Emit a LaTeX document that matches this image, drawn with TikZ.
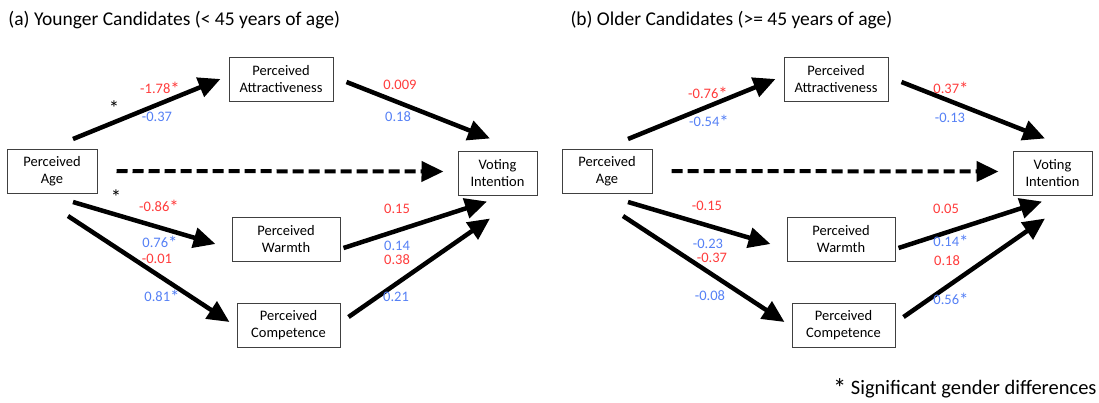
\documentclass[tikz,border=0pt]{standalone}
\usepackage{fontspec}
\usepackage{graphicx}
\setmainfont{Carlito}
\usetikzlibrary{arrows.meta}
\definecolor{cred}{HTML}{FF3B3B}
\definecolor{cblue}{HTML}{5580F5}
\definecolor{cbox}{HTML}{404040}
\newcommand\sig{\raisebox{-0.15em}{\scalebox{1.3}{*}}}
\tikzset{
  every picture/.style={line width=1pt},
  box/.style={draw=cbox, line width=1pt, align=center, inner sep=2pt, minimum height=44pt, font=\fontsize{14.5}{17}\selectfont},
  arrow/.style={-{Triangle[length=22pt, width=20pt]}, line width=4.5pt},
  dasharrow/.style={arrow, line width=4pt, dash pattern=on 11pt off 5pt},
  coef/.style={font=\fontsize{14.5}{16}\selectfont, inner sep=0pt, text=#1},
  coef/.default=black,
  title/.style={font=\fontsize{19.5}{22}\selectfont, anchor=west, inner sep=0pt},
}
\begin{document}
\begin{tikzpicture}[x=1pt, y=1pt]
\useasboundingbox (0,0) rectangle (1099,-402);
\node[title] (a-title) at (8,-20) {(a) Younger Candidates (< 45 years of age)};
\node[title] (b-title) at (570,-20) {(b) Older Candidates (>= 45 years of age)};
% boxes and paths, same layout in both panels
\foreach \p/\dx in {a/0, b/555}{
  \begin{scope}[xshift=\dx]
    \node[box, minimum width=90pt] (\p-age) at (52,-171.5) {Perceived\\Age};
    \node[box, minimum width=104pt] (\p-attr) at (281,-79) {Perceived\\Attractiveness};
    \node[box, minimum width=108pt] (\p-warm) at (286,-239) {Perceived\\Warmth};
    \node[box, minimum width=103pt] (\p-comp) at (288.5,-325) {Perceived\\Competence};
    \node[box, minimum width=79pt] (\p-vote) at (497.5,-173) {Voting\\Intention};
  \end{scope}
  \draw[arrow] ([shift={(21,10)}]\p-age.north) -- ([xshift=-8]\p-attr.west);
  \draw[dasharrow] ([shift={(19,0.5)}]\p-age.east) -- ([shift={(-14,1.5)}]\p-vote.west);
  \draw[arrow] ([shift={(13,-3)}]\p-attr.east) -- ([shift={(-7.5,12)}]\p-vote.north);
  \draw[arrow] ([shift={(21,-8)}]\p-age.south) -- ([shift={(-16,-5)}]\p-warm.west);
  \draw[arrow] ([shift={(16,-22)}]\p-age.south) -- ([shift={(-7,3)}]\p-comp.west);
  \draw[arrow] ([shift={(3,-9)}]\p-warm.east) -- ([shift={(-10.5,-6)}]\p-vote.south);
  \draw[arrow] ([shift={(8,8)}]\p-comp.east) -- ([shift={(-7.5,-23)}]\p-vote.south);
}
% (a) coefficients
\node[coef, font=\fontsize{16}{16}\selectfont] (a-star1) at (114,-108) {\sig};
\node[coef, font=\fontsize{16}{16}\selectfont] (a-star2) at (116,-197) {\sig};
\node[coef=cred] (a-c1) at (160,-89) {-1.78\sig};
\node[coef=cblue] (a-c2) at (157,-117) {-0.37};
\node[coef=cred] (a-c3) at (400,-85) {0.009};
\node[coef=cblue] (a-c4) at (398,-117) {0.18};
\node[coef=cred] (a-c5) at (159,-207) {-0.86\sig};
\node[coef=cblue] (a-c6) at (160,-243) {0.76\sig};
\node[coef=cred] (a-c7) at (157,-259) {-0.01};
\node[coef=cblue] (a-c8) at (162,-297) {0.81\sig};
\node[coef=cred] (a-c9) at (397,-209) {0.15};
\node[coef=cblue] (a-c10) at (397,-246) {0.14};
\node[coef=cred] (a-c11) at (397,-260) {0.38};
\node[coef=cblue] (a-c12) at (396,-297) {0.21};
% (b) coefficients
\node[coef=cred] (b-c1) at (708,-94) {-0.76\sig};
\node[coef=cblue] (b-c2) at (709,-122) {-0.54\sig};
\node[coef=cred] (b-c3) at (951,-89) {0.37\sig};
\node[coef=cblue] (b-c4) at (950,-118) {-0.13};
\node[coef=cred] (b-c5) at (707,-206) {-0.15};
\node[coef=cblue] (b-c6) at (708,-244) {-0.23};
\node[coef=cred] (b-c7) at (712,-258) {-0.37};
\node[coef=cblue] (b-c8) at (710,-296) {-0.08};
\node[coef=cred] (b-c9) at (946,-209) {0.05};
\node[coef=cblue] (b-c10) at (951,-242) {0.14\sig};
\node[coef=cred] (b-c11) at (947,-261) {0.18};
\node[coef=cblue] (b-c12) at (951,-300) {0.56\sig};
\node[font=\fontsize{20.5}{22}\selectfont, anchor=east, inner sep=0pt] (note) at (1097,-388) {\sig{} Significant gender differences};
\end{tikzpicture}
\end{document}
